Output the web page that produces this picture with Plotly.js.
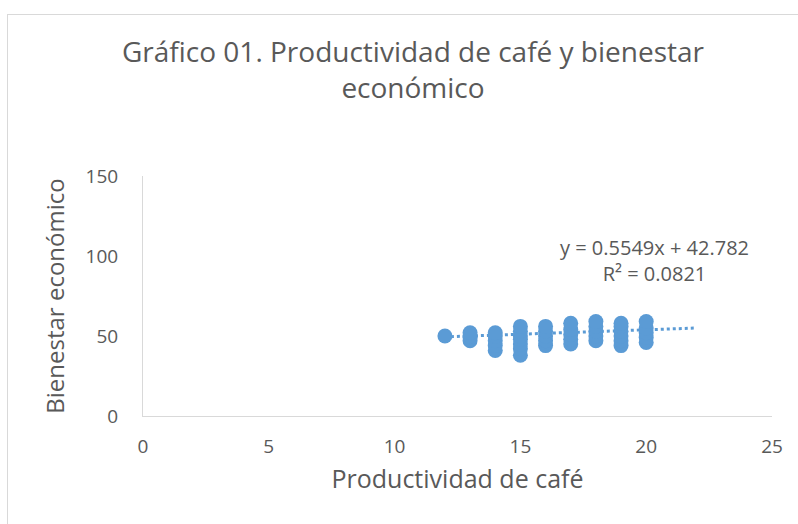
<!DOCTYPE html>
<html>
<head>
<meta charset="utf-8">
<script src="https://cdn.plot.ly/plotly-3.0.1.min.js"></script>
<style>
html,body{margin:0;padding:0;background:#fff;overflow:hidden;width:798px;height:524px;}
#frame{position:absolute;left:7px;top:14px;width:810px;height:520px;border:1px solid #d9d9d9;box-sizing:border-box;}
#chart{width:810px;height:520px;}
</style>
</head>
<body>
<div id="frame"><div id="chart"></div></div>
<script>
// Data
const productividad = [12, 13,13,13,13, 14,14,14,14,14, 15,15,15,15,15,15,15, 16,16,16,16,16, 17,17,17,17,17, 18,18,18,18,18, 19,19,19,19,19,19, 20,20,20,20,20];
const bienestar =     [50, 47,49,50,52, 41,44,47,50,52, 38,42,45,48,50,53,56, 44,47,50,53,56, 45,48,51,54,58, 47,50,53,56,59, 44,47,50,53,56,58, 46,49,52,55,59];
const trendSlope = 0.5549;
const trendIntercept = 42.782;
const trendX = [12, 22];
const trendY = trendX.map(v => trendSlope * v + trendIntercept);
const xTicks = [0, 5, 10, 15, 20, 25];
const yTicks = [0, 50, 100, 150];

const font = "'Open Sans', 'Noto Sans', sans-serif";
const grey = '#595959';
const blue = '#5B9BD5';

const data = [
  {x: trendX, y: trendY, type: 'scatter', mode: 'lines',
   line: {color: blue, width: 3, dash: 'dot'}, hoverinfo: 'skip', showlegend: false},
  {x: productividad, y: bienestar, type: 'scatter', mode: 'markers',
   marker: {color: blue, size: 15, line: {width: 0}}, showlegend: false}
];

const layout = {
  width: 810, height: 520,
  margin: {l: 135, r: 46, t: 161, b: 119},
  paper_bgcolor: '#ffffff', plot_bgcolor: '#ffffff',
  font: {family: font, color: grey},
  title: {text: 'Gráfico 01. Productividad de café y bienestar<br>económico',
          font: {family: font, size: 28, color: grey}, x: 0.5, xanchor: 'center', y: 0.910, yanchor: 'top'},
  xaxis: {range: [0, 25], tickvals: xTicks, ticktext: xTicks.map(String), color: grey,
          showgrid: false, zeroline: false, showline: true, linecolor: '#d9d9d9', linewidth: 1,
          ticks: '', ticklabelstandoff: 13, tickfont: {family: font, size: 19, color: grey},
          title: {text: 'Productividad de café', font: {family: font, size: 25, color: grey}, standoff: 12}},
  yaxis: {range: [0, 150], tickvals: yTicks, ticktext: yTicks.map(String), color: grey,
          showgrid: false, zeroline: false, showline: true, linecolor: '#d9d9d9', linewidth: 1,
          ticks: '', ticklabelstandoff: 20, tickfont: {family: font, size: 19, color: grey},
          title: {text: 'Bienestar económico', font: {family: font, size: 24, color: grey}, standoff: 14}},
  annotations: [{
    x: 20.33, y: 97, xref: 'x', yref: 'y', showarrow: false,
    text: 'y = 0.5549x + 42.782<br>R² = 0.0821', align: 'center',
    font: {family: font, size: 20, color: grey}
  }]
};

Plotly.newPlot('chart', data, layout, {displayModeBar: false, staticPlot: true});
</script>
</body>
</html>
